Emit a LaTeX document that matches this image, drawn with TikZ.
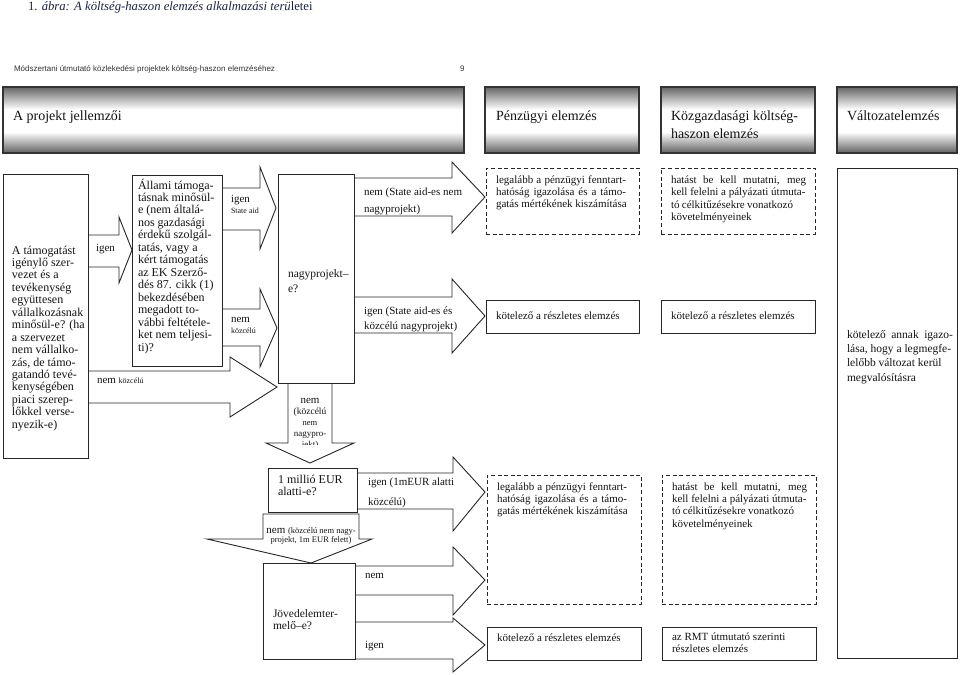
\documentclass[tikz,border=0pt]{standalone}
\usepackage{fontspec}
\setmainfont{Liberation Serif}
\newfontfamily\hdrsans{Liberation Sans}
\newcommand\fsz[1]{\fontsize{#1}{#1}\selectfont}
\definecolor{titleblue}{RGB}{30,36,62}
\pgfdeclareverticalshading{hdrshade}{100bp}{color(0bp)=(black!62); color(25bp)=(black!62); color(41bp)=(white); color(58bp)=(white); color(75bp)=(black!60); color(100bp)=(black!60)}
\tikzset{
 ln/.style={draw=black!85, line width=0.9pt},
 box/.style={ln, rectangle, inner sep=0pt, outer sep=0pt},
 dbox/.style={box, dash pattern=on 4pt off 2.6pt},
 hbox/.style={rectangle, inner sep=0pt, outer sep=0pt, draw=black!80, line width=1.1pt, shading=hdrshade},
 blk/.style={ln, line join=miter},
 tx/.style={inner sep=0pt, outer sep=0pt, text=black!92},
}
\newcommand\bx[6][box]{\node[#1, anchor=north west, minimum width={#5-#3}, minimum height={#6-#4}] (#2) at (#3,#4) {};}
\newcommand\rarr[9]{\draw[blk] (#2 |- 0,#5) -- (#3,#5) -- (#3,#7) -- (#4,#9) coordinate (#1) -- (#3,#8) -- (#3,#6) -- (#2 |- 0,#6);}
\newcommand\txl[6][]{\foreach \tline [count=\ti from 0] in {#6} {\node[tx, anchor=base west, #1] (#2\ti) at (#3,{#4+\ti*#5}) {\tline};}}
\begin{document}
\begin{tikzpicture}[x=1pt,y=-1pt]
\useasboundingbox (0,0) rectangle (960,674);
\fill[white] (0,0) rectangle (960,674);
% title and running header
\node[tx, anchor=base west, font=\fsz{12.7}, text=titleblue] (title) at (28,11) {1. \textit{ábra: A költség-haszon elemzés alkalmazási terü}letei};
\node[tx, anchor=base west, font=\hdrsans\fsz{8}, text=black!80] (hline) at (14,72) {Módszertani útmutató közlekedési projektek költség-haszon elemzéséhez};
\node[tx, anchor=base west, font=\hdrsans\fsz{8}, text=black!80] (pnum) at (460,72) {9};
% header boxes
\bx[hbox]{h1}{3}{87}{464}{153}
\bx[hbox]{h2}{485}{87}{639}{153}
\bx[hbox]{h3}{661}{87}{815}{153}
\bx[hbox]{h4}{837}{87}{957}{153}
\node[tx, anchor=base west, font=\fsz{14}] (h1t) at (13,121) {A projekt jellemzői};
\node[tx, anchor=base west, font=\fsz{14}] (h2t) at (496,121) {Pénzügyi elemzés};
\node[tx, anchor=base west, font=\fsz{14}] (h3t) at (671,121) {Közgazdasági költség-};
\node[tx, anchor=base west, font=\fsz{14}] (h3u) at (671,138) {haszon elemzés};
\node[tx, anchor=base west, font=\fsz{14}] (h4t) at (847,121) {Változatelemzés};
% boxes
\bx{lb}{3}{174}{88}{458}
\bx{ab}{132}{175}{222}{366}
\bx{nb}{278}{174}{354}{383}
\bx[dbox]{da1}{486}{168}{639}{234}
\bx[dbox]{db1}{661}{168}{815}{234}
\bx{sa1}{486}{300}{639}{333}
\bx{sb1}{661}{300}{815}{333}
\bx{rt}{837}{168}{957}{658}
\bx{mb}{268}{468}{357}{512}
\bx{jb}{263}{563}{355}{659}
\bx[dbox]{da2}{487}{475}{641}{604}
\bx[dbox]{db2}{662}{475}{816}{604}
\bx{sa2}{487}{627}{641}{660}
\bx{sb2}{662}{627}{816}{660}
% block arrows
\rarr{t1}{lb.east}{119}{132}{235}{267}{217}{283}{250}
\rarr{t2}{ab.east}{260}{276}{188}{230}{167}{249}{208}
\rarr{t3}{ab.east}{260}{277}{309}{346}{289}{367}{328}
\rarr{t4}{lb.east}{230}{277}{371}{403}{357}{417}{387}
\rarr{t5}{nb.east}{452}{485}{178}{216}{162}{233}{197}
\rarr{t6}{nb.east}{452}{485}{297}{333}{279}{353}{316}
\rarr{t7}{mb.east}{453}{485}{473}{509}{457}{531}{492}
\rarr{t8}{jb.east}{453}{485}{566}{595}{547}{615}{580}
\rarr{t9}{jb.east}{453}{485}{622}{659}{618}{672}{645}
\draw[blk] (288,0 |- nb.south) -- (288,443) -- (266,443) -- (310,463) coordinate (d1) -- (354,443) -- (332,443) -- (332,0 |- nb.south);
\draw[blk] (263,514) -- (359,514) -- (359,539) -- (372,539) -- (311,563) coordinate (d2) -- (207,539) -- (263,539) -- cycle;
% box texts
\txl[font=\fsz{12}]{tlb}{12}{254}{12.45}{A támogatást,igénylő szer-,vezet és a,tevékenység,együttesen,vállalkozásnak,minősül-e? (ha,a szervezet,nem vállalko-,{zás, de támo-},gatandó tevé-,kenységében,piaci szerep-,lőkkel verse-,nyezik-e)}
\txl[font=\fsz{12}]{tab}{138}{189}{12.47}{Állami támoga-,tásnak minősül-,e (nem általá-,nos gazdasági,érdekű szolgál-,{tatás, vagy a},kért támogatás,az EK Szerző-,dés 87. cikk (1),bekezdésében,megadott to-,vábbi feltétele-,ket nem teljesi-,ti)?}
\txl[font=\fsz{11.5}]{tnb}{288}{277}{15}{nagyprojekt–,e?}
\txl[font=\fsz{11}]{tda}{496}{183}{12.2}{\makebox[130pt][s]{legalább a pénzügyi fenntart-},\makebox[130pt][s]{hatóság igazolása és a támo-},gatás mértékének kiszámítása}
\txl[font=\fsz{11}]{tdb}{671}{183}{12.5}{\makebox[135pt][s]{hatást be kell mutatni, meg},kell felelni a pályázati útmuta-,\makebox[122pt][s]{tó célkitűzésekre vonatkozó},követelményeinek}
\node[tx, anchor=base west, font=\fsz{11}] (tsa1) at (496,319) {kötelező a részletes elemzés};
\node[tx, anchor=base west, font=\fsz{11}] (tsb1) at (671,319) {kötelező a részletes elemzés};
\txl[font=\fsz{11.5}]{trt}{847}{338}{14.4}{\makebox[106pt][s]{kötelező annak igazo-},{lása, hogy a legmegfe-},lelőbb változat kerül,megvalósításra}
\txl[font=\fsz{12}]{tmb}{278}{483}{12}{1 millió EUR,alatti-e?}
\txl[font=\fsz{11.5}]{tjb}{273}{617}{12}{Jövedelemter-,melő–e?}
\txl[font=\fsz{11}]{tda2}{497}{490}{12.4}{\makebox[130pt][s]{legalább a pénzügyi fenntart-},\makebox[130pt][s]{hatóság igazolása és a támo-},gatás mértékének kiszámítása}
\txl[font=\fsz{11}]{tdb2}{672}{490}{12.4}{\makebox[135pt][s]{hatást be kell mutatni, meg},kell felelni a pályázati útmuta-,\makebox[122pt][s]{tó célkitűzésekre vonatkozó},követelményeinek}
\node[tx, anchor=base west, font=\fsz{11}] (tsa2) at (497,641) {kötelező a részletes elemzés};
\txl[font=\fsz{11}]{tsb2}{672}{640}{12.4}{az RMT útmutató szerinti,részletes elemzés}
% arrow labels
\node[tx, anchor=base west, font=\fsz{11}] (l1) at (96,251) {igen};
\node[tx, anchor=base west, font=\fsz{11}] (l2) at (231,202) {igen};
\node[tx, anchor=base west, font=\fsz{8}] (l2b) at (231,213) {State aid};
\node[tx, anchor=base west, font=\fsz{11}] (l3) at (231,322) {nem};
\node[tx, anchor=base west, font=\fsz{8}] (l3b) at (231,333) {közcélú};
\node[tx, anchor=base west, font=\fsz{11}] (l4) at (97,383) {nem {\fsz{8}közcélú}};
\txl[font=\fsz{11}]{l5}{364}{195}{17}{nem (State aid-es nem,nagyprojekt)}
\txl[font=\fsz{11}]{l6}{364}{314}{15.5}{igen (State aid-es és,közcélú nagyprojekt)}
\begin{scope}
\clip (280,385) rectangle (340,444);
\node[tx, anchor=base, font=\fsz{11}] (l7a) at (310,403) {nem};
\node[tx, anchor=base, font=\fsz{9.5}] (l7b) at (310,414) {(közcélú};
\node[tx, anchor=base, font=\fsz{8.5}] (l7c) at (310,425) {nem};
\node[tx, anchor=base, font=\fsz{9}] (l7d) at (310,436) {nagypro-};
\node[tx, anchor=base, font=\fsz{9}] (l7e) at (310,447) {jekt)};
\end{scope}
\txl[font=\fsz{11}]{l8}{368}{485}{20}{igen (1mEUR alatti,közcélú)}
\node[tx, anchor=base, font=\fsz{11}] (l9a) at (311,533) {nem {\fsz{8.5}(közcélú nem nagy-}};
\node[tx, anchor=base, font=\fsz{8.5}] (l9b) at (311,542) {projekt, 1m EUR felett)};
\node[tx, anchor=base west, font=\fsz{11}] (l10) at (365,578) {nem};
\node[tx, anchor=base west, font=\fsz{11}] (l11) at (365,648) {igen};
\end{tikzpicture}
\end{document}
